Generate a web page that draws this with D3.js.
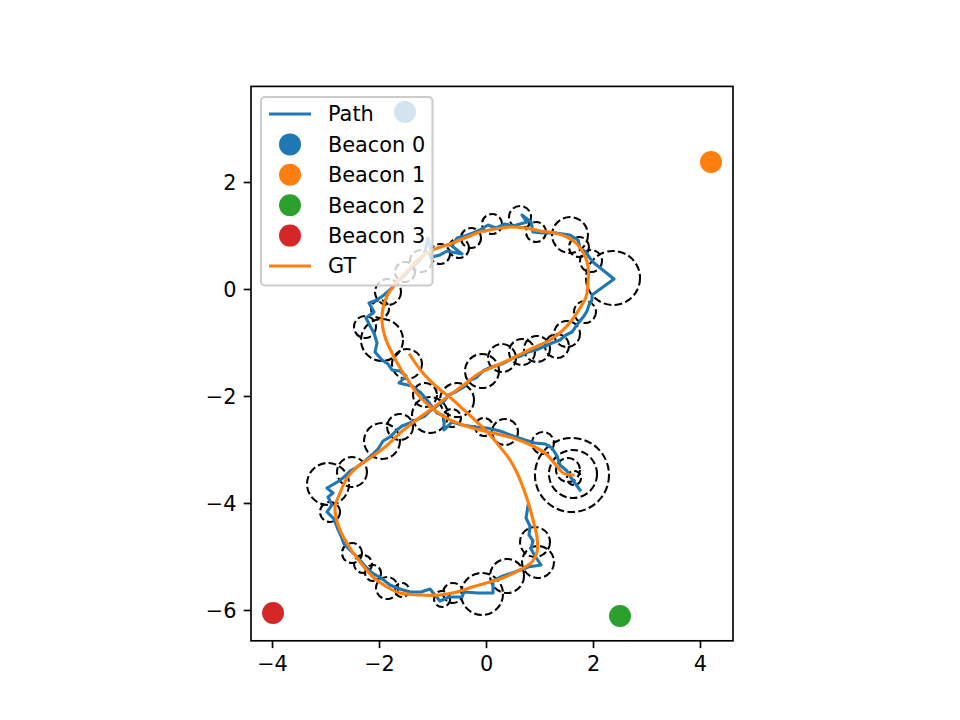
<!DOCTYPE html>
<html><head><meta charset="utf-8">
<script src="https://cdn.jsdelivr.net/npm/d3@7"></script>
<style>body{margin:0;background:#fff} svg{display:block}</style>
</head><body><svg id="c" width="960" height="720"></svg>
<script>
const xTicks=[-4,-2,0,2,4];
const yTicks=[2,0,-2,-4,-6];
const xDomain=[-4.393,4.617];
const yDomain=[-6.576,3.787];

const beaconNames=["Beacon 0","Beacon 1","Beacon 2","Beacon 3"];
const beaconX=[-1.514,4.206,2.505,-3.981];
const beaconY=[3.308,2.374,-6.112,-6.056];
const beaconColors=["#1f77b4","#ff7f0e","#2ca02c","#d62728"];

const pathX=[0.785,0.748,0.822,0.804,0.879,0.841,0.916,1.028,0.785,0.542,0.318,0.131,0.131,-0.150,-0.411,-0.449,-0.692,-0.860,-0.972,-1.047,-1.215,-1.421,-1.607,-1.794,-1.963,-2.131,-2.262,-2.393,-2.542,-2.654,-2.710,-2.785,-2.841,-2.972,-2.879,-2.953,-2.860,-2.972,-2.748,-2.654,-2.542,-2.411,-2.262,-2.131,-2.019,-1.925,-1.794,-1.664,-1.570,-1.421,-1.271,-1.140,-1.047,-0.916,-0.785,-0.692,-0.542,-0.411,-0.318,-0.168,-0.056,0.093,0.243,0.374,0.505,0.654,0.785,0.935,1.103,1.234,1.383,1.495,1.607,1.682,1.757,1.832,1.888,1.925,1.981,1.981,2.393,2.019,1.925,1.869,1.757,1.720,1.570,1.308,1.065,0.879,0.841,0.673,0.766,0.505,0.355,0.187,0.037,-0.112,-0.243,-0.393,-0.542,-0.636,-0.449,-0.729,-0.860,-1.009,-1.047,-1.084,-1.159,-1.271,-1.402,-1.514,-1.645,-1.757,-1.907,-2.037,-2.187,-2.093,-2.243,-2.168,-2.093,-2.037,-2.075,-1.944,-1.832,-1.757,-1.607,-1.495,-1.626,-1.383,-1.215,-1.103,-1.009,-0.916,-0.785,-0.785,-0.636,-0.449,-0.206,0.019,0.262,0.505,0.729,0.916,1.103,1.234,1.327,1.383,1.514,1.607,1.757];
const pathY=[-4.056,-4.280,-4.430,-4.598,-4.710,-4.860,-4.991,-5.159,-5.196,-5.290,-5.364,-5.458,-5.682,-5.682,-5.664,-5.757,-5.757,-5.832,-5.701,-5.607,-5.664,-5.664,-5.607,-5.533,-5.402,-5.308,-5.178,-5.028,-4.879,-4.766,-4.617,-4.449,-4.299,-4.168,-4.037,-3.888,-3.813,-3.720,-3.589,-3.514,-3.402,-3.327,-3.215,-3.103,-2.991,-2.841,-2.766,-2.636,-2.561,-2.505,-2.430,-2.374,-2.280,-2.187,-2.093,-1.981,-1.907,-1.832,-1.720,-1.645,-1.533,-1.458,-1.421,-1.364,-1.290,-1.252,-1.178,-1.140,-1.065,-1.009,-0.953,-0.860,-0.804,-0.692,-0.598,-0.505,-0.411,-0.299,-0.206,-0.112,0.187,0.486,0.598,0.692,0.766,0.916,1.009,1.047,1.047,1.065,1.252,1.383,1.252,1.178,1.215,1.140,1.196,1.103,1.047,0.991,0.953,0.804,0.654,0.710,0.636,0.598,0.804,0.953,0.636,0.505,0.393,0.262,0.150,0.019,-0.112,-0.206,-0.262,-0.430,-0.542,-0.692,-0.822,-1.009,-1.178,-1.327,-1.402,-1.514,-1.533,-1.626,-1.757,-1.813,-1.944,-2.075,-2.206,-2.318,-2.374,-2.636,-2.486,-2.542,-2.579,-2.598,-2.654,-2.748,-2.822,-2.879,-2.897,-2.972,-3.121,-3.290,-3.402,-3.551,-3.757];

const gtX=[-1.421,-1.196,-0.897,-0.636,-0.393,-0.150,0.075,0.262,0.449,0.598,0.710,0.804,0.879,0.953,0.953,0.860,0.636,0.355,0.075,-0.262,-0.542,-0.860,-1.234,-1.607,-1.850,-2.112,-2.355,-2.579,-2.766,-2.822,-2.729,-2.598,-2.411,-2.168,-1.888,-1.607,-1.327,-1.047,-0.729,-0.393,-0.150,0.131,0.505,0.879,1.196,1.421,1.607,1.757,1.869,1.907,1.907,1.832,1.701,1.514,1.290,1.009,0.729,0.449,0.168,-0.112,-0.355,-0.673,-0.991,-1.234,-1.477,-1.701,-1.850,-1.925,-1.944,-1.888,-1.776,-1.626,-1.439,-1.234,-1.009,-0.748,-0.486,-0.187,0.131,0.505,0.879,1.121,1.308,1.439,1.626];
const gtY=[-1.234,-1.551,-1.850,-2.056,-2.280,-2.505,-2.729,-2.953,-3.196,-3.477,-3.757,-4.037,-4.318,-4.636,-4.916,-5.103,-5.252,-5.383,-5.477,-5.570,-5.664,-5.720,-5.720,-5.682,-5.570,-5.383,-5.103,-4.785,-4.411,-4.075,-3.813,-3.533,-3.327,-3.159,-2.953,-2.692,-2.467,-2.262,-2.019,-1.776,-1.589,-1.458,-1.290,-1.103,-0.953,-0.785,-0.579,-0.355,-0.150,0.112,0.430,0.654,0.841,0.972,1.047,1.084,1.140,1.159,1.121,1.065,0.972,0.841,0.729,0.579,0.336,0.093,-0.131,-0.355,-0.617,-0.897,-1.159,-1.439,-1.738,-2.019,-2.224,-2.411,-2.523,-2.617,-2.692,-2.785,-2.935,-3.084,-3.290,-3.439,-3.477];

const circX=[2.374,1.570,1.738,1.963,1.850,1.514,0.935,0.636,0.112,-0.280,-0.505,-0.860,-1.215,-1.514,-1.832,-1.981,-2.262,-1.944,-1.477,-0.075,0.299,0.673,0.953,1.327,-1.140,-0.542,-1.047,-1.607,-1.944,-2.505,-2.953,-0.636,-0.037,0.355,1.065,1.607,1.626,1.533,1.645,-2.916,-2.505,-2.299,-2.112,-1.850,-1.570,-0.822,-0.617,-0.075,0.393,0.916,0.972];
const circY=[0.206,1.009,0.785,0.523,-0.430,-0.841,1.065,1.346,1.215,0.953,0.766,0.654,0.523,0.318,-0.056,-0.374,-0.710,-0.953,-1.402,-1.533,-1.290,-1.178,-1.121,-1.065,-1.981,-2.075,-2.355,-2.579,-2.841,-3.421,-3.645,-2.411,-2.579,-2.673,-2.879,-3.477,-3.458,-3.383,-3.533,-4.168,-4.935,-5.140,-5.308,-5.589,-5.626,-5.794,-5.682,-5.701,-5.364,-4.729,-5.103];
const circR=[0.505,0.336,0.187,0.206,0.206,0.243,0.187,0.206,0.187,0.187,0.187,0.187,0.206,0.187,0.243,0.168,0.206,0.393,0.280,0.318,0.262,0.243,0.243,0.224,0.224,0.318,0.336,0.243,0.336,0.280,0.393,0.168,0.168,0.243,0.206,0.692,0.449,0.224,0.131,0.187,0.187,0.168,0.150,0.206,0.131,0.150,0.187,0.393,0.318,0.280,0.299];

const FS=20.83, FONT="DejaVu Sans";
const svg=d3.select("#c");
const L=251,R=733,T=86.4,B=640.8;
const x=d3.scaleLinear().domain(xDomain).range([L,R]);
const y=d3.scaleLinear().domain(yDomain).range([B,T]);
const k=x(1)-x(0);

svg.append("defs").append("clipPath").attr("id","clip").append("rect")
  .attr("x",L).attr("y",T).attr("width",R-L).attr("height",B-T);
const plot=svg.append("g").attr("clip-path","url(#clip)");

// uncertainty circles
plot.append("g").selectAll("circle").data(circX.map((v,i)=>i)).join("circle")
  .attr("cx",i=>x(circX[i])).attr("cy",i=>y(circY[i])).attr("r",i=>circR[i]*k)
  .attr("fill","none").attr("stroke","#000").attr("stroke-width",2.08)
  .attr("stroke-dasharray","7.7,3.3");

// beacons
plot.append("g").selectAll("circle").data(beaconX.map((v,i)=>i)).join("circle")
  .attr("cx",i=>x(beaconX[i])).attr("cy",i=>y(beaconY[i])).attr("r",11)
  .attr("fill",i=>beaconColors[i]);

const line=d3.line().x(d=>x(d[0])).y(d=>y(d[1]));
plot.append("path").datum(pathX.map((v,i)=>[v,pathY[i]])).attr("d",line)
  .attr("fill","none").attr("stroke","#1f77b4").attr("stroke-width",3.125)
  .attr("stroke-linejoin","round").attr("stroke-linecap","square");
plot.append("path").datum(gtX.map((v,i)=>[v,gtY[i]])).attr("d",line.curve(d3.curveCatmullRom))
  .attr("fill","none").attr("stroke","#ff7f0e").attr("stroke-width",3.125)
  .attr("stroke-linejoin","round").attr("stroke-linecap","square");

// axes
const fmt=v=>(v<0?"\u2212"+Math.abs(v):""+v);
const xa=svg.append("g").attr("transform",`translate(0,${B})`)
  .call(d3.axisBottom(x).tickValues(xTicks).tickFormat(fmt).tickSize(7.3).tickPadding(7.3));
const ya=svg.append("g").attr("transform",`translate(${L},0)`)
  .call(d3.axisLeft(y).tickValues(yTicks).tickFormat(fmt).tickSize(7.3).tickPadding(7.3));
[xa,ya].forEach(g=>{
  g.select(".domain").remove();
  g.selectAll(".tick line").attr("stroke","#000").attr("stroke-width",1.67);
  g.selectAll(".tick text").attr("font-family",FONT).attr("font-size",FS).attr("fill","#000");
});
xa.selectAll(".tick text").attr("dy","0.76em");
ya.selectAll(".tick text").attr("dy","0.36em");
svg.append("rect").attr("x",L).attr("y",T).attr("width",R-L).attr("height",B-T)
  .attr("fill","none").attr("stroke","#000").attr("stroke-width",1.67);

// legend
const lg=svg.append("g");
lg.append("rect").attr("x",261).attr("y",97).attr("width",171.5).attr("height",188.5)
  .attr("rx",4).attr("fill","#fff").attr("fill-opacity",0.8)
  .attr("stroke","#cccccc").attr("stroke-width",2.08);
const entries=[{t:"Path",type:"line",c:"#1f77b4"}]
  .concat(beaconNames.map((n,i)=>({t:n,type:"dot",c:beaconColors[i]})))
  .concat([{t:"GT",type:"line",c:"#ff7f0e"}]);
const rowY=d3.scaleLinear().domain([0,5]).range([114,266]);
entries.forEach((e,i)=>{
  const yy=rowY(i);
  if(e.type==="line"){
    lg.append("line").attr("x1",269).attr("x2",311).attr("y1",yy).attr("y2",yy)
      .attr("stroke",e.c).attr("stroke-width",3.125);
  } else {
    lg.append("circle").attr("cx",290).attr("cy",yy).attr("r",11).attr("fill",e.c);
  }
  lg.append("text").attr("x",328).attr("y",yy).attr("dy","0.36em")
    .attr("font-family",FONT).attr("font-size",FS).attr("fill","#000").text(e.t);
});
</script></body></html>
